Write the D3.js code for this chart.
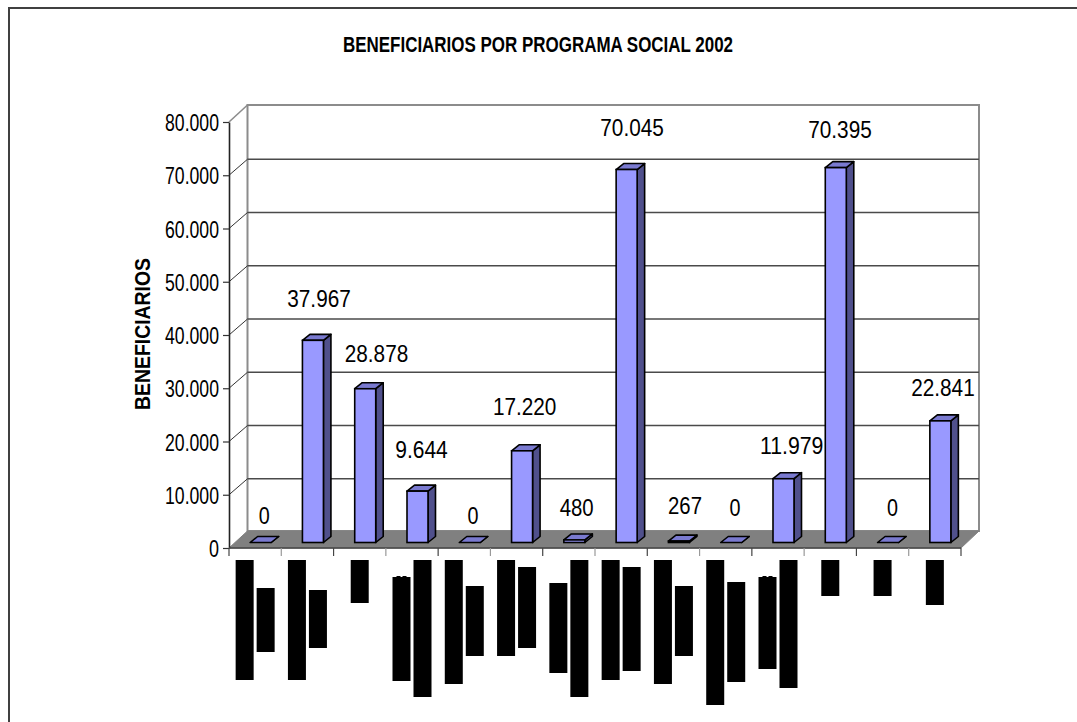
<!DOCTYPE html>
<html><head><meta charset="utf-8">
<script src="https://cdnjs.cloudflare.com/ajax/libs/d3/7.8.5/d3.min.js"></script>
<style>html,body{margin:0;padding:0;background:#fff}svg{display:block}text{font-family:"Liberation Sans",Arial,sans-serif;fill:#000}</style>
</head><body><svg id="c" width="1077" height="722"></svg>
<script>
// ---- data ----
const chartTitle = "BENEFICIARIOS POR PROGRAMA SOCIAL 2002";
const axisTitle = "BENEFICIARIOS";
const programas = ["P01","P02","P03","P04","P05","P06","P07","P08","P09","P10","P11","P12","P13","P14"];
const beneficiarios = [0,37967,28878,9644,0,17220,480,70045,267,0,11979,70395,0,22841];
const yTicks = [0,10000,20000,30000,40000,50000,60000,70000,80000];
// obscured (blacked-out) category label lines: [start, end] along the label direction, null = no line
const labelLine1 = [[0,120],[0,120],[0,43],[17,121],[0,124],[0,96],[23,113],[0,120],[0,124],[0,145],[17,109],[0,36],[0,36],[0,45]];
const labelLine2 = [[28,92],[30,88],null,[0,137],[26,96],[7,88],[0,137],[7,111],[26,96],[22,122],[0,128],null,null,null];
const labelNibs = ["P04","P11"];
// hand-placed data label nudges relative to the top of each bar
const labelDx = [9,11.6,16.8,9.5,8.7,8.1,7.8,10.9,11.6,9.3,13.7,9.7,9.9,8.1];
const labelDy = [-18.5,-33.8,-27,-33,-18.5,-35.8,-24,-33.5,-27,-26.5,-24.7,-30,-26.5,-24.9];

// ---- layout ----
const svg = d3.select("#c");
const X0 = 229, X1 = 961, Y0 = 548, Y80 = 122;
const DX = 18.5, DY = 17;           // wall depth
const GRID_DY = 16;                 // gridline offset on the wall
const BDX = 5.5, BDY = 5.5;         // bar offset into the floor
const SDX = 7.5, SDY = 6;           // bar own depth
const BW = 21;

const x = d3.scaleBand().domain(programas).range([X0, X1]);
const y = d3.scaleLinear().domain([0, 80000]).range([Y0, Y80]);
const loc = d3.formatLocale({decimal:",",thousands:".",grouping:[3],currency:["",""]});
const fmt = loc.format(",d");
const poly = pts => pts.map(p => p.join(",")).join(" ");

function fitText(sel, w){ return sel.attr("textLength", w).attr("lengthAdjust","spacingAndGlyphs"); }

// outer frame (top and left only are visible)
svg.append("path").attr("d","M9 722V8H1077").attr("fill","none").attr("stroke","#404040").attr("stroke-width",2);

// wall
svg.append("polygon")
  .attr("points", poly([[X0+DX,y(0)-DY],[X0+DX,y(80000)-DY],[X1+DX-.5,y(80000)-DY],[X1+DX-.5,y(0)-DY]]))
  .attr("fill","#fff").attr("stroke","#8c8c8c").attr("stroke-width",2);

// gridlines + wall-side diagonals
svg.append("g").selectAll("line").data(yTicks.slice(1,-1)).join("line")
  .attr("x1",X0+DX).attr("x2",X1+DX-.5).attr("y1",d=>y(d)-GRID_DY).attr("y2",d=>y(d)-GRID_DY)
  .attr("stroke","#4a4a4a").attr("stroke-width",1.3);
svg.append("g").selectAll("line").data(yTicks.slice(1)).join("line")
  .attr("x1",X0).attr("x2",X0+DX).attr("y1",d=>y(d)).attr("y2",d=>y(d)-(d===80000?DY:GRID_DY))
  .attr("stroke",d=>d===80000?"#8c8c8c":"#333").attr("stroke-width",d=>d===80000?1.6:1);

// floor
svg.append("polygon")
  .attr("points", poly([[X0,Y0],[X0+DX,Y0-DY],[X1+DX-.5,Y0-DY],[X1,Y0]]))
  .attr("fill","#808080").attr("stroke","#808080").attr("stroke-width",1);

// y axis
const gy = svg.append("g").attr("transform",`translate(${X0},0)`)
  .call(d3.axisLeft(y).tickValues(yTicks).tickFormat(fmt).tickSize(6).tickSizeOuter(0));
gy.select(".domain").attr("stroke","#222").attr("stroke-width",1.6);
gy.selectAll(".tick line").attr("stroke","#333").attr("stroke-width",1.2);
gy.selectAll(".tick text").remove();
gy.selectAll(".tick").append("text")
  .attr("x",-10).attr("y",8.5).attr("text-anchor","end")
  .style("font-size","24px").text(d=>fmt(d))
  .each(function(d){ fitText(d3.select(this), fmt(d).length===1?10:54); });

// x axis: baseline and boundary ticks
svg.append("line").attr("x1",X0).attr("x2",X1).attr("y1",Y0).attr("y2",Y0).attr("stroke","#444").attr("stroke-width",1.5);
svg.append("g").selectAll("line").data(d3.range(programas.length+1)).join("line")
  .attr("x1",i=>X0+i*x.step()).attr("x2",i=>X0+i*x.step())
  .attr("y1",Y0).attr("y2",Y0+8).attr("stroke",(i)=>i%2?"#999":"#444").attr("stroke-width",1.2);

// bars
const barScale = v => y(v) - BDY;
const bars = svg.append("g").selectAll("g").data(programas).join("g");
const bx = p => x(p) + x.bandwidth()/2 + BDX - BW/2;
const val = (d,i) => beneficiarios[i];
bars.append("polygon").attr("fill","#50508c").attr("stroke","#000").attr("stroke-width",1.6).attr("stroke-linejoin","round")
  .attr("points",(d,i)=>{const l=bx(d)+BW,t=barScale(val(d,i)),b=barScale(0);return poly([[l,b],[l,t],[l+SDX,t-SDY],[l+SDX,b-SDY]]);});
bars.append("polygon").attr("fill","#7a7ad0").attr("stroke","#000").attr("stroke-width",1.6).attr("stroke-linejoin","round")
  .attr("points",(d,i)=>{const l=bx(d),t=barScale(val(d,i));return poly([[l,t],[l+BW,t],[l+BW+SDX,t-SDY],[l+SDX,t-SDY]]);});
bars.append("rect").attr("fill","#9999ff").attr("stroke","#000").attr("stroke-width",1.6)
  .attr("x",d=>bx(d)).attr("width",BW)
  .attr("y",(d,i)=>barScale(val(d,i)))
  .attr("height",(d,i)=>barScale(0)-barScale(val(d,i)));

// data labels
svg.append("g").selectAll("text").data(beneficiarios).join("text")
  .attr("text-anchor","middle").style("font-size","24.5px")
  .attr("x",(d,i)=>x(programas[i])+x.bandwidth()/2+labelDx[i])
  .attr("y",(d,i)=>barScale(d)+labelDy[i])
  .text(d=>fmt(d))
  .each(function(d){ const n=fmt(d).length; fitText(d3.select(this), n===6?63.5:n===5?52.5:n===3?34:11); });

// obscured category labels
const blockTop = Y0 + 12, BLW = 18;
const blockX = (i,side,two) => { const c=x(programas[i])+x.bandwidth()/2; return two ? (side<0? c-19.5 : c+1.5) : c-BLW/2; };
const blocks = svg.append("g");
[[labelLine1,-1],[labelLine2,1]].forEach(([arr,side])=>{
  blocks.selectAll(null).data(arr.map((r,i)=>({r,i,two:labelLine2[i]!==null})).filter(d=>d.r)).join("rect")
    .attr("fill","#000").attr("width",BLW)
    .attr("x",d=>blockX(d.i,side,d.two))
    .attr("y",d=>blockTop+d.r[0]).attr("height",d=>d.r[1]-d.r[0]);
});
labelNibs.forEach(p=>{
  const i=programas.indexOf(p);
  [4,10].forEach(o=>blocks.append("rect").attr("fill","#000").attr("x",blockX(i,-1,true)+o).attr("y",blockTop+labelLine1[i][0]-1).attr("width",4).attr("height",1));
});

// titles
fitText(svg.append("text").attr("x",343).attr("y",52).attr("text-anchor","start")
  .style("font-size","22px").style("font-weight","bold").text(chartTitle),390);
fitText(svg.append("text").attr("transform","translate(150,334) rotate(-90)").attr("text-anchor","middle")
  .style("font-size","22px").style("font-weight","bold").text(axisTitle),152);
</script></body></html>
